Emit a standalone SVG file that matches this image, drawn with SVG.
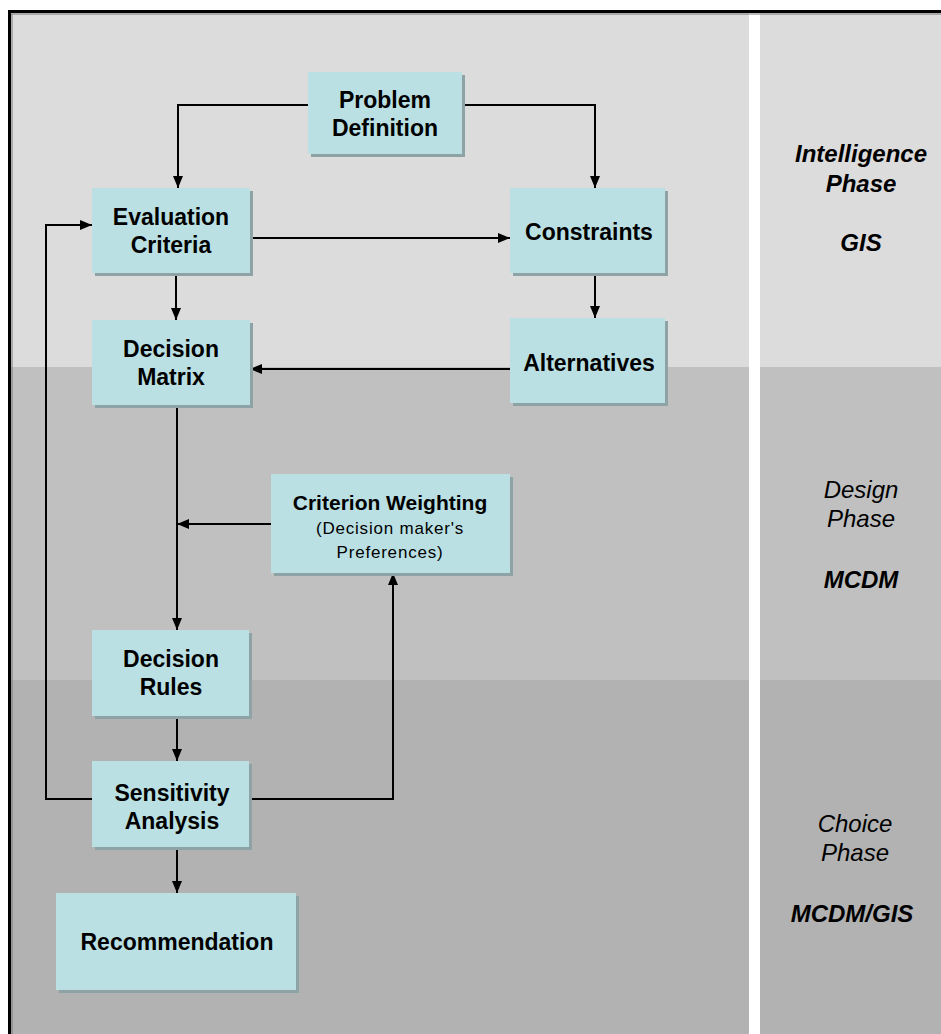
<svg xmlns="http://www.w3.org/2000/svg" width="941" height="1034" viewBox="0 0 941 1034">
<style>
.box{fill:#bae0e3;}
.sh{fill:#8da3a5;}
.t{font-family:"Liberation Sans",Arial,sans-serif;font-weight:bold;font-size:23px;fill:#000;text-anchor:middle;}
.s{font-family:"Liberation Sans",Arial,sans-serif;font-size:17px;fill:#000;text-anchor:middle;letter-spacing:0.8px;}
.p{font-family:"Liberation Sans",Arial,sans-serif;font-style:italic;font-size:24px;fill:#000;text-anchor:middle;}
.b{font-weight:bold;}
.c{fill:none;stroke:#000;stroke-width:2;}
</style>
<defs>
<marker id="ah" viewBox="0 0 12 10" refX="12" refY="5" markerWidth="12" markerHeight="10" markerUnits="userSpaceOnUse" orient="auto">
<path d="M0,0 L12,5 L0,10 Z" fill="#000"/>
</marker>
</defs>
<rect x="0" y="0" width="941" height="1034" fill="#ffffff"/>
<g id="background">
<rect x="10" y="12" width="931" height="355" fill="#dcdcdc"/>
<rect x="10" y="367" width="931" height="313" fill="#c0c0c0"/>
<rect x="10" y="680" width="931" height="354" fill="#b2b2b2"/>
<rect x="749" y="13" width="11" height="1021" fill="#ffffff"/>
<line x1="8" y1="11.5" x2="941" y2="11.5" stroke="#000" stroke-width="3"/>
<line x1="9.5" y1="10" x2="9.5" y2="1034" stroke="#000" stroke-width="3"/>
<line x1="11" y1="14" x2="941" y2="14" stroke="#777" stroke-width="1"/>
<line x1="12" y1="14" x2="12" y2="1034" stroke="#777" stroke-width="1"/>
</g>
<g id="connectors">
<path class="c" d="M308,105 H178 V188" marker-end="url(#ah)"/>
<path class="c" d="M462,105 H595 V188" marker-end="url(#ah)"/>
<path class="c" d="M250,238 H510" marker-end="url(#ah)"/>
<path class="c" d="M176,273 V320" marker-end="url(#ah)"/>
<path class="c" d="M595,273 V318" marker-end="url(#ah)"/>
<path class="c" d="M510,369 H250" marker-end="url(#ah)"/>
<path class="c" d="M177,405 V630" marker-end="url(#ah)"/>
<path class="c" d="M271,524 H177" marker-end="url(#ah)"/>
<path class="c" d="M177,716 V761" marker-end="url(#ah)"/>
<path class="c" d="M92,799 H46 V225 H92" marker-end="url(#ah)"/>
<path class="c" d="M249,799 H393 V573" marker-end="url(#ah)"/>
<path class="c" d="M177,847 V893" marker-end="url(#ah)"/>
</g>
<g id="problem-definition">
<rect class="sh" x="311" y="75" width="154" height="82"/>
<rect class="box" x="308" y="72" width="154" height="82"/>
<text class="t" x="385" y="108">Problem</text>
<text class="t" x="385" y="136">Definition</text>
</g>
<g id="evaluation-criteria">
<rect class="sh" x="95" y="191" width="158" height="85"/>
<rect class="box" x="92" y="188" width="158" height="85"/>
<text class="t" x="171" y="225">Evaluation</text>
<text class="t" x="171" y="253">Criteria</text>
</g>
<g id="constraints">
<rect class="sh" x="513" y="191" width="155" height="85"/>
<rect class="box" x="510" y="188" width="155" height="85"/>
<text class="t" x="589" y="240">Constraints</text>
</g>
<g id="decision-matrix">
<rect class="sh" x="95" y="323" width="158" height="85"/>
<rect class="box" x="92" y="320" width="158" height="85"/>
<text class="t" x="171" y="357">Decision</text>
<text class="t" x="171" y="385">Matrix</text>
</g>
<g id="alternatives">
<rect class="sh" x="513" y="321" width="155" height="85"/>
<rect class="box" x="510" y="318" width="155" height="85"/>
<text class="t" x="589" y="371">Alternatives</text>
</g>
<g id="criterion-weighting">
<rect class="sh" x="274" y="477" width="239" height="99"/>
<rect class="box" x="271" y="474" width="239" height="99"/>
<text class="t" x="390" y="510" style="font-size:21px">Criterion Weighting</text>
<text class="s" x="390" y="534">(Decision maker's</text>
<text class="s" x="390" y="558">Preferences)</text>
</g>
<g id="decision-rules">
<rect class="sh" x="95" y="633" width="157" height="86"/>
<rect class="box" x="92" y="630" width="157" height="86"/>
<text class="t" x="171" y="667">Decision</text>
<text class="t" x="171" y="695">Rules</text>
</g>
<g id="sensitivity-analysis">
<rect class="sh" x="95" y="764" width="157" height="86"/>
<rect class="box" x="92" y="761" width="157" height="86"/>
<text class="t" x="172" y="801">Sensitivity</text>
<text class="t" x="172" y="829">Analysis</text>
</g>
<g id="recommendation">
<rect class="sh" x="59" y="896" width="240" height="97"/>
<rect class="box" x="56" y="893" width="240" height="97"/>
<text class="t" x="177" y="950">Recommendation</text>
</g>
<g id="phase-labels">
<text class="p b" x="861" y="162">Intelligence</text>
<text class="p b" x="861" y="192">Phase</text>
<text class="p b" x="861" y="251">GIS</text>
<text class="p" x="861" y="498">Design</text>
<text class="p" x="861" y="527">Phase</text>
<text class="p b" x="861" y="588">MCDM</text>
<text class="p" x="855" y="832">Choice</text>
<text class="p" x="855" y="861">Phase</text>
<text class="p b" x="852" y="922">MCDM/GIS</text>
</g>
</svg>
